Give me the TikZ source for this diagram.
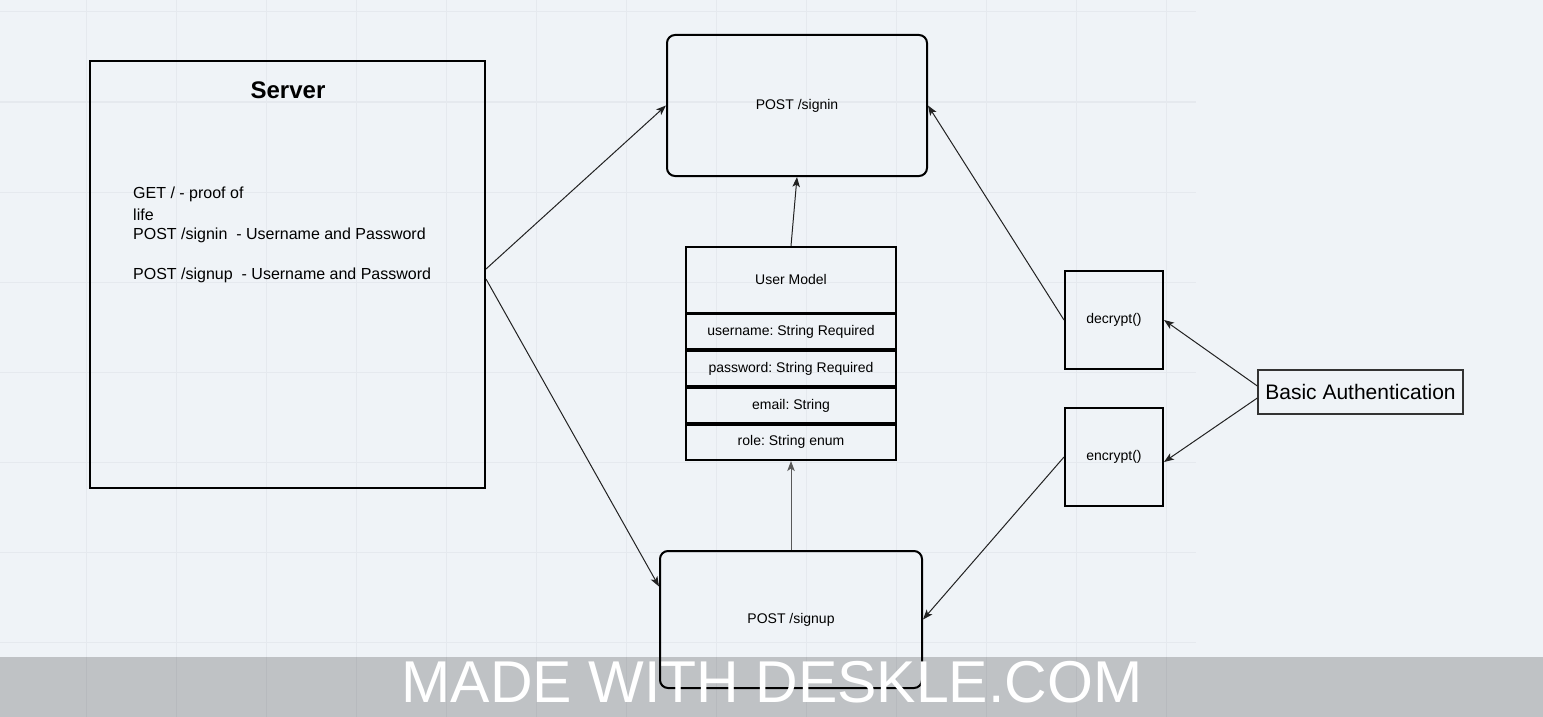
\documentclass[tikz,border=0pt]{standalone}
\usepackage{fontspec}
\setmainfont{Liberation Sans}
\usetikzlibrary{arrows.meta}

\definecolor{canvas}{HTML}{EFF3F7}
\definecolor{gridline}{HTML}{E5E9EE}
\definecolor{wire}{HTML}{222222}
\definecolor{authline}{HTML}{333333}

\tikzset{
  box/.style={draw=black, line width=2pt, inner sep=0pt, align=center},
  rbox/.style={box, rounded corners=8pt, font=\fontsize{14}{16}\selectfont},
  field/.style={box, minimum width=210pt, font=\fontsize{14}{16}\selectfont},
  fnbox/.style={box, minimum width=98pt, minimum height=98pt, font=\fontsize{14}{16}\selectfont},
  link/.style={draw=wire, line width=1pt, -{Stealth[length=10pt,width=7.5pt,inset=2.5pt]}},
  routeline/.style={inner sep=0pt, anchor=base west, font=\fontsize{16}{19}\selectfont},
}

\begin{document}
\frenchspacing
\begin{tikzpicture}[x=1pt, y=-1pt]
  % canvas and grid
  \useasboundingbox (0,0) rectangle (1543,717);
  \fill[canvas] (0,0) rectangle (1543,717);
  \foreach \gx in {86,176,...,1166} \draw[gridline, line width=1pt] (\gx,0) -- (\gx,717);
  \foreach \gy in {12,102,...,642} \draw[gridline, line width=1pt] (0,\gy) -- (1196,\gy);

  % server box with its routes
  \node[box, minimum width=395pt, minimum height=427pt] (server) at (287.5,274.5) {};
  \node[inner sep=0pt, anchor=base, font=\bfseries\fontsize{24}{28}\selectfont] (title) at (288,99) {Server};
  \node[routeline] (r1) at (133,198) {GET / - proof of};
  \node[routeline] (r2) at (133,220) {life};
  \node[routeline] (r3) at (133,239) {POST /signin\ \ - Username and Password};
  \node[routeline] (r4) at (133,279) {POST /signup\ \ - Username and Password};

  % endpoints
  \node[rbox, minimum width=260pt, minimum height=141pt] (signin) at (797,105.5) {POST /signin};
  \node[rbox, minimum width=262pt, minimum height=137pt] (signup) at (791,619.5) {POST /signup};

  % user model
  \node[field, minimum height=65.5pt] (umodel) at (791,279.75) {User Model};
  \node[field, minimum height=35.6pt] (uname) at (791,331.6) {username: String Required};
  \node[field, minimum height=35.6pt] (upass) at (791,368.5) {password: String Required};
  \node[field, minimum height=35.6pt] (umail) at (791,405.4) {email: String};
  \node[field, minimum height=35.5pt] (urole) at (791,442.25) {role: String enum};

  % crypto helpers
  \node[fnbox] (decrypt) at (1114,320) {decrypt()};
  \node[fnbox] (encrypt) at (1114,457) {encrypt()};
  \node[draw=authline, line width=1.3pt, inner sep=0pt, minimum width=205pt, minimum height=44pt,
        font=\fontsize{21}{24}\selectfont] (auth) at (1360.5,392) {Basic Authentication};

  % connectors
  \draw[link] ([yshift=5.5pt]server.east) -- (signin.west);
  \draw[link] ([yshift=-4.5pt]server.east) -- ([yshift=33pt]signup.west);
  \draw[link] (umodel.north) -- (signin.south);
  \draw[link, draw=black!65] (signup.north) -- (urole.south);
  \draw[link] (decrypt.west) -- (signin.east);
  \draw[link] (encrypt.west) -- (signup.east);
  \draw[link] ([yshift=6pt]auth.west) -- (decrypt.east);
  \draw[link] ([yshift=-6pt]auth.west) -- ([yshift=-5pt]encrypt.east);

  % footer banner
  \fill[black, opacity=0.2] (0,657) rectangle (1543,717);
  \node[inner sep=0pt, anchor=base, text=white, font=\fontsize{59}{64}\selectfont] (banner) at (772,702) {MADE WITH DESKLE.COM};
\end{tikzpicture}
\end{document}
